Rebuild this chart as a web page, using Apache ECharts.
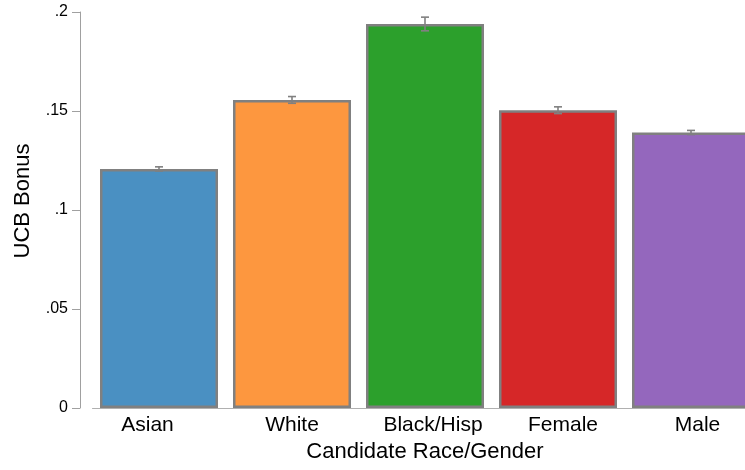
<!DOCTYPE html>
<html>
<head>
<meta charset="utf-8">
<script src="https://cdn.jsdelivr.net/npm/echarts@6/dist/echarts.min.js"></script>
<style>
html,body{margin:0;padding:0;background:#fff;}
#chart{width:745px;height:470px;}
</style>
</head>
<body>
<div id="chart"></div>
<script>
var categories = ['Asian', 'White', 'Black/Hisp', 'Female', 'Male'];
var values = [0.1207, 0.1556, 0.1939, 0.1504, 0.1391];
var errLow = [0.1197, 0.1539, 0.1905, 0.1487, 0.1381];
var errHigh = [0.1218, 0.1573, 0.1974, 0.1521, 0.1402];
var barColors = ['#4a90c2', '#fd973f', '#2ca02c', '#d62728', '#9467bd'];
var yTicks = [0, 0.05, 0.1, 0.15, 0.2];
var yTickLabels = ['0', '.05', '.1', '.15', '.2'];
var labelShift = [23, 0, -16, -10, -13];

var FONT = 'Liberation Sans';
var chart = echarts.init(document.getElementById('chart'), null, {renderer: 'canvas'});

var xData = categories.map(function (c, i) {
  var s = labelShift[i];
  var pad = s >= 0 ? [0, s, 0, 0] : [0, 0, 0, -s];
  return {value: c, textStyle: {padding: pad}};
});

var option = {
  animation: false,
  backgroundColor: '#ffffff',
  grid: {left: 92.5, width: 665, top: 12, height: 396, containLabel: false, outerBoundsMode: 'none'},
  xAxis: {
    type: 'category',
    data: xData,
    boundaryGap: true,
    name: 'Candidate Race/Gender',
    nameLocation: 'middle',
    nameGap: 33,
    nameTextStyle: {fontFamily: FONT, fontSize: 22, color: '#000'},
    axisLine: {show: true, lineStyle: {color: '#b0b0b0', width: 1}},
    axisTick: {show: false},
    axisLabel: {fontFamily: FONT, fontSize: 21, color: '#000', margin: 7, interval: 0}
  },
  yAxis: {
    type: 'value',
    min: 0,
    max: 0.2,
    interval: 0.05,
    offset: 12.5,
    name: 'UCB Bonus',
    nameLocation: 'middle',
    nameGap: 46,
    nameRotate: 90,
    nameTextStyle: {fontFamily: FONT, fontSize: 22, color: '#000', padding: [0, 0, 0, 18]},
    axisLine: {show: true, lineStyle: {color: '#a0a0a0', width: 1}},
    axisTick: {show: true, length: 8, lineStyle: {color: '#a0a0a0', width: 1}},
    splitLine: {show: false},
    axisLabel: {
      fontFamily: FONT, fontSize: 16, color: '#000', margin: 12,
      formatter: function (v) {
        for (var i = 0; i < yTicks.length; i++) {
          if (Math.abs(v - yTicks[i]) < 1e-9) return yTickLabels[i];
        }
        return '';
      }
    }
  },
  series: [
    {
      type: 'bar',
      barWidth: 118,
      data: values.map(function (v, i) {
        return {value: v, itemStyle: {color: barColors[i]}};
      }),
      itemStyle: {borderColor: '#808080', borderWidth: 2.5},
      z: 2
    },
    {
      type: 'custom',
      z: 5,
      data: categories.map(function (c, i) { return [i, errLow[i], errHigh[i]]; }),
      renderItem: function (params, api) {
        var x = api.value(0);
        var lo = api.coord([x, api.value(1)]);
        var hi = api.coord([x, api.value(2)]);
        var half = 4;
        var style = {stroke: '#808080', lineWidth: 1.6};
        return {
          type: 'group',
          children: [
            {type: 'line', shape: {x1: lo[0], y1: lo[1], x2: hi[0], y2: hi[1]}, style: style},
            {type: 'line', shape: {x1: lo[0] - half, y1: lo[1], x2: lo[0] + half, y2: lo[1]}, style: style},
            {type: 'line', shape: {x1: hi[0] - half, y1: hi[1], x2: hi[0] + half, y2: hi[1]}, style: style}
          ]
        };
      }
    }
  ]
};
chart.setOption(option);
</script>
</body>
</html>
